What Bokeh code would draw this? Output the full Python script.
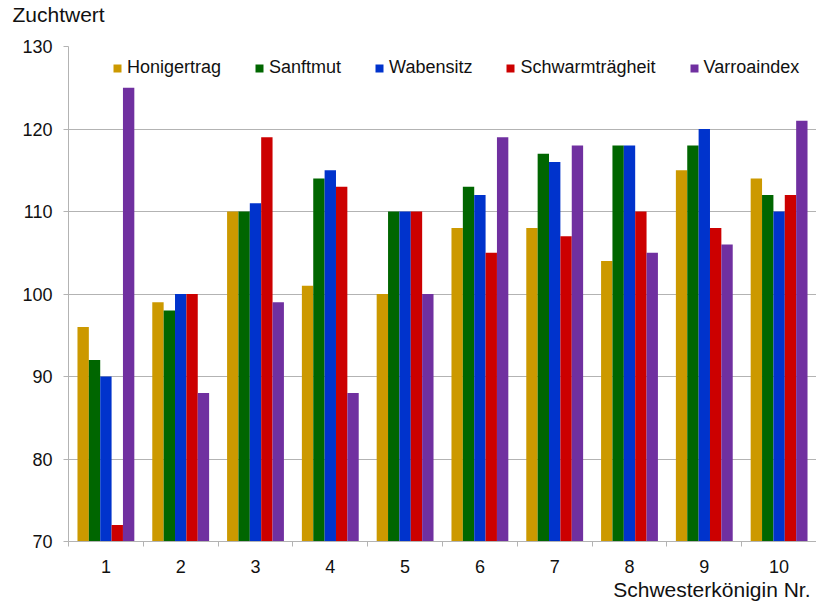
from bokeh.plotting import figure
from bokeh.models import (ColumnDataSource, FixedTicker, Legend, LegendItem, Title, Range1d)
from bokeh.transform import dodge
from bokeh.embed import file_html
from bokeh.resources import INLINE

queens = [1, 2, 3, 4, 5, 6, 7, 8, 9, 10]
honigertrag = [96, 99, 110, 101, 100, 108, 108, 104, 115, 114]
sanftmut = [92, 98, 110, 114, 110, 113, 117, 118, 118, 112]
wabensitz = [90, 100, 111, 115, 110, 112, 116, 118, 120, 110]
schwarmtraegheit = [72, 100, 119, 113, 110, 105, 107, 110, 108, 112]
varroaindex = [125, 88, 99, 88, 100, 119, 118, 105, 106, 121]

series_names = ["Honigertrag", "Sanftmut", "Wabensitz", "Schwarmträgheit", "Varroaindex"]
series_values = [honigertrag, sanftmut, wabensitz, schwarmtraegheit, varroaindex]
colors = ["#CC9900", "#006600", "#0033CC", "#CC0000", "#7030A0"]
y_ticks = [70, 80, 90, 100, 110, 120, 130]

FONT = "Liberation Sans"
GRID = "#b3b3b3"

src = ColumnDataSource(dict(x=queens, **{f"s{i}": v for i, v in enumerate(series_values)}))

p = figure(width=816, height=601, output_backend="svg", toolbar_location=None,
           x_range=Range1d(0.5, 10.5), y_range=Range1d(70, 130),
           min_border_left=68, min_border_right=0, min_border_top=46, min_border_bottom=60)
p.outline_line_color = None
p.background_fill_color = "white"
p.border_fill_color = "white"

bw = 0.152
offsets = [-2 * bw, -bw, 0, bw, 2 * bw]
renderers = []
for i, (name, col) in enumerate(zip(series_names, colors)):
    r = p.vbar(x=dodge("x", offsets[i], range=p.x_range), top=f"s{i}", bottom=70,
               width=bw, source=src, fill_color=col, line_color=None)
    renderers.append(r)

# axes
p.xaxis.ticker = FixedTicker(ticks=queens, minor_ticks=[q - 0.5 for q in queens] + [10.5])
p.xaxis.major_tick_out = 0
p.xaxis.major_tick_in = 0
p.xaxis.minor_tick_out = 5
p.xaxis.minor_tick_in = 0
p.xaxis.minor_tick_line_color = GRID
p.xaxis.axis_line_color = GRID
p.xaxis.major_label_standoff = 13
p.xaxis.major_label_text_font = FONT
p.xaxis.major_label_text_font_size = "18px"
p.xaxis.major_label_text_color = "#111111"

p.yaxis.ticker = FixedTicker(ticks=y_ticks)
p.yaxis.major_tick_out = 5
p.yaxis.major_tick_in = 0
p.yaxis.minor_tick_line_color = None
p.yaxis.major_tick_line_color = GRID
p.yaxis.axis_line_color = GRID
p.yaxis.major_label_standoff = 11
p.yaxis.major_label_text_font = FONT
p.yaxis.major_label_text_font_size = "18px"
p.yaxis.major_label_text_color = "#111111"

p.xgrid.grid_line_color = None
p.ygrid.grid_line_color = GRID
p.ygrid.grid_line_width = 1

legend = Legend(items=[LegendItem(label=n, renderers=[r]) for n, r in zip(series_names, renderers)],
                orientation="horizontal", location=(44, 463), margin=0, padding=0,
                border_line_color=None, background_fill_alpha=0,
                glyph_width=10, glyph_height=10, label_standoff=5, spacing=33,
                label_text_font=FONT, label_text_font_size="18px", label_text_color="#111111",
                label_height=20)
p.add_layout(legend, "center")

# spacer title (closest to the frame) pushes the y-axis title upward
p.add_layout(Title(text=" ", standoff=17, text_font_size="2px"), "above")
p.add_layout(Title(text="Zuchtwert", align="left", offset=-56, standoff=0,
                   text_font=FONT, text_font_size="21px", text_color="#111111",
                   text_font_style="normal"), "above")
p.add_layout(Title(text="Schwesterkönigin Nr.", align="right", offset=6, standoff=0,
                   text_font=FONT, text_font_size="21px", text_color="#111111",
                   text_font_style="normal"), "below")

open("out.html", "w").write(file_html(p, INLINE))
